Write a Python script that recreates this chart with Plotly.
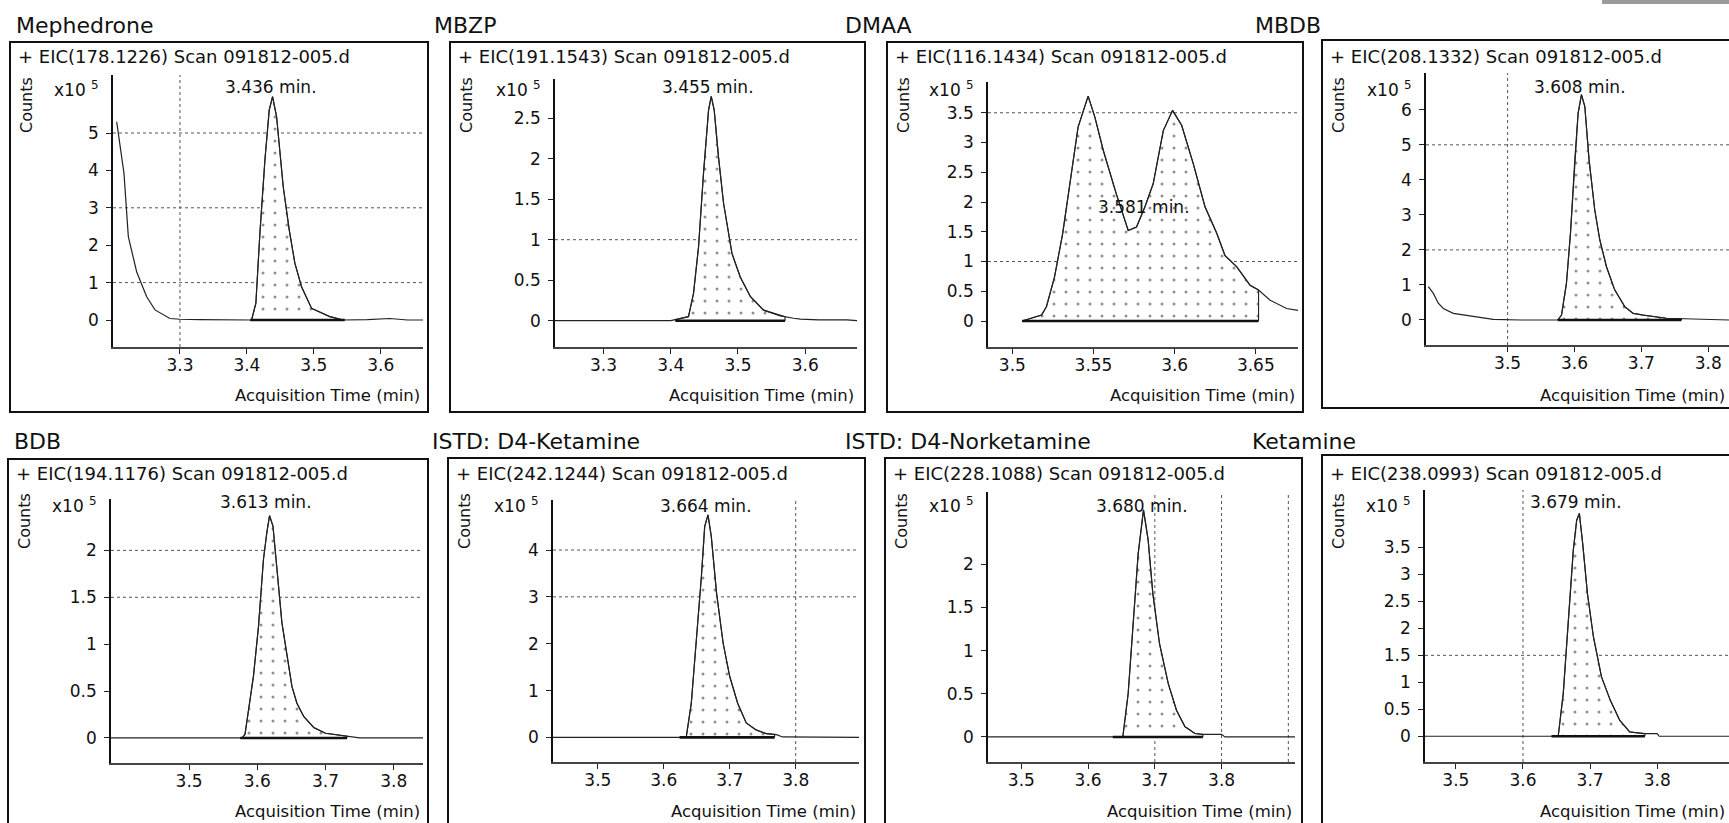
import numpy as np
import plotly.graph_objects as go

W, H = 1729, 823
FONT = "DejaVu Sans"

# ---------------- data (x10^5 counts vs acquisition time, min) ----------------
titles = ["Mephedrone", "MBZP", "DMAA", "MBDB",
          "BDB", "ISTD: D4-Ketamine", "ISTD: D4-Norketamine", "Ketamine"]
eic_labels = ["+ EIC(178.1226) Scan 091812-005.d", "+ EIC(191.1543) Scan 091812-005.d",
              "+ EIC(116.1434) Scan 091812-005.d", "+ EIC(208.1332) Scan 091812-005.d",
              "+ EIC(194.1176) Scan 091812-005.d", "+ EIC(242.1244) Scan 091812-005.d",
              "+ EIC(228.1088) Scan 091812-005.d", "+ EIC(238.0993) Scan 091812-005.d"]
peak_rt = [3.436, 3.455, 3.581, 3.608, 3.613, 3.664, 3.680, 3.679]
peak_labels = ["3.436 min.", "3.455 min.", "3.581 min.", "3.608 min.",
               "3.613 min.", "3.664 min.", "3.680 min.", "3.679 min."]

mephedrone_time = [3.2055, 3.2164, 3.2229, 3.2353, 3.2503, 3.2627, 3.285, 3.30, 3.33, 3.36, 3.38,
                   3.400, 3.407, 3.4134, 3.4194, 3.4269, 3.4333, 3.4383, 3.4443, 3.4542, 3.4632,
                   3.4716, 3.4816, 3.4966, 3.509, 3.5239, 3.5438, 3.58, 3.6134, 3.64, 3.663]
mephedrone_counts = [5.30, 3.92, 2.23, 1.29, 0.62, 0.27, 0.04, 0.02, 0.01, 0.00, 0.01,
                     0.00, 0.00, 0.45, 2.32, 4.28, 5.61, 5.97, 5.44, 3.57, 2.41,
                     1.52, 0.89, 0.31, 0.22, 0.09, 0.00, 0.01, 0.04, 0.00, 0.00]

mbzp_time = [3.228, 3.30, 3.40, 3.4265, 3.434, 3.4414, 3.4488, 3.4563, 3.4603, 3.4647, 3.4711,
             3.4786, 3.4911, 3.5034, 3.5183, 3.5381, 3.563, 3.5827, 3.593, 3.62, 3.662, 3.677]
mbzp_counts = [0.0, 0.0, 0.0, 0.05, 0.34, 0.91, 1.82, 2.60, 2.77, 2.60, 2.02,
               1.45, 0.83, 0.54, 0.30, 0.13, 0.06, 0.03, 0.02, 0.01, 0.01, 0.0]

dmaa_time = [3.506, 3.518, 3.521, 3.526, 3.531, 3.535, 3.5405, 3.5467, 3.5508, 3.556, 3.564,
             3.5714, 3.5765, 3.5817, 3.5868, 3.593, 3.5987, 3.6043, 3.6115, 3.6187, 3.626,
             3.631, 3.6383, 3.6465, 3.6517, 3.6588, 3.669, 3.676]
dmaa_counts = [0.0, 0.10, 0.24, 0.74, 1.47, 2.25, 3.26, 3.78, 3.43, 2.87, 2.14,
               1.52, 1.58, 1.92, 2.31, 3.20, 3.54, 3.29, 2.64, 1.92, 1.47,
               1.10, 0.91, 0.60, 0.52, 0.35, 0.21, 0.18]

mbdb_time = [3.3815, 3.389, 3.3964, 3.4039, 3.4188, 3.4388, 3.4587, 3.4785, 3.52, 3.575,
             3.5806, 3.588, 3.594, 3.6004, 3.6054, 3.6104, 3.6154, 3.6218, 3.6303, 3.6378,
             3.6478, 3.6601, 3.6751, 3.6875, 3.7024, 3.7373, 3.78, 3.831]
mbdb_counts = [0.95, 0.76, 0.48, 0.33, 0.19, 0.14, 0.08, 0.02, 0.0, 0.0,
               0.14, 1.05, 2.48, 4.57, 5.90, 6.43, 6.10, 4.57, 3.14, 2.29,
               1.52, 0.86, 0.38, 0.19, 0.14, 0.05, 0.02, 0.0]

bdb_time = [3.3855, 3.50, 3.578, 3.582, 3.5871, 3.5944, 3.6018, 3.609, 3.614, 3.618, 3.623,
            3.6288, 3.6361, 3.6508, 3.6581, 3.668, 3.683, 3.70, 3.73, 3.75, 3.843]
bdb_counts = [0.0, 0.0, 0.0, 0.04, 0.30, 0.66, 1.19, 1.90, 2.19, 2.37, 2.26,
              1.83, 1.23, 0.55, 0.37, 0.23, 0.11, 0.05, 0.02, 0.0, 0.0]

d4_ketamine_time = [3.432, 3.55, 3.634, 3.6417, 3.649, 3.657, 3.662, 3.667, 3.672, 3.68,
                    3.69, 3.70, 3.712, 3.725, 3.74, 3.7555, 3.771, 3.78, 3.896]
d4_ketamine_counts = [0.0, 0.0, 0.0, 0.73, 2.01, 3.43, 4.50, 4.75, 4.29, 3.08,
                      2.01, 1.30, 0.73, 0.31, 0.16, 0.08, 0.06, 0.01, 0.0]

d4_norketamine_time = [3.45, 3.55, 3.652, 3.66, 3.6673, 3.675, 3.683, 3.69, 3.697, 3.707,
                       3.72, 3.7324, 3.745, 3.76, 3.772, 3.80, 3.805, 3.91]
d4_norketamine_counts = [0.0, 0.0, 0.0, 0.50, 1.27, 2.12, 2.63, 2.28, 1.66, 1.08,
                         0.62, 0.31, 0.12, 0.04, 0.03, 0.03, 0.0, 0.0]

ketamine_time = [3.454, 3.55, 3.6525, 3.66, 3.667, 3.675, 3.68, 3.684, 3.689, 3.696,
                 3.705, 3.717, 3.73, 3.744, 3.759, 3.779, 3.80, 3.803, 3.907]
ketamine_counts = [0.0, 0.0, 0.0, 0.79, 2.03, 3.45, 4.00, 4.13, 3.57, 2.65,
                   1.84, 1.10, 0.67, 0.30, 0.08, 0.05, 0.05, 0.0, 0.0]

integ_start = [3.405, 3.407, 3.506, 3.575, 3.575, 3.624, 3.637, 3.6426]
integ_end = [3.546, 3.570, 3.6517, 3.760, 3.7316, 3.768, 3.772, 3.7817]

y_tickvals = [[0, 1, 2, 3, 4, 5], [0, 0.5, 1, 1.5, 2, 2.5], [0, 0.5, 1, 1.5, 2, 2.5, 3, 3.5],
              [0, 1, 2, 3, 4, 5, 6], [0, 0.5, 1, 1.5, 2], [0, 1, 2, 3, 4],
              [0, 0.5, 1, 1.5, 2], [0, 0.5, 1, 1.5, 2, 2.5, 3, 3.5]]
y_ticktext = [["0", "1", "2", "3", "4", "5"], ["0", "0.5", "1", "1.5", "2", "2.5"],
              ["0", "0.5", "1", "1.5", "2", "2.5", "3", "3.5"],
              ["0", "1", "2", "3", "4", "5", "6"], ["0", "0.5", "1", "1.5", "2"],
              ["0", "1", "2", "3", "4"], ["0", "0.5", "1", "1.5", "2"],
              ["0", "0.5", "1", "1.5", "2", "2.5", "3", "3.5"]]
x_tickvals = [[3.3, 3.4, 3.5, 3.6], [3.3, 3.4, 3.5, 3.6], [3.5, 3.55, 3.6, 3.65],
              [3.5, 3.6, 3.7, 3.8], [3.5, 3.6, 3.7, 3.8], [3.5, 3.6, 3.7, 3.8],
              [3.5, 3.6, 3.7, 3.8], [3.5, 3.6, 3.7, 3.8]]
x_ticktext = [["3.3", "3.4", "3.5", "3.6"], ["3.3", "3.4", "3.5", "3.6"],
              ["3.5", "3.55", "3.6", "3.65"], ["3.5", "3.6", "3.7", "3.8"],
              ["3.5", "3.6", "3.7", "3.8"], ["3.5", "3.6", "3.7", "3.8"],
              ["3.5", "3.6", "3.7", "3.8"], ["3.5", "3.6", "3.7", "3.8"]]
h_grid = [[1, 3, 5], [1, 3], [1, 3.5], [2, 5], [1.5, 2], [3, 4], [], [1.5]]
v_grid = [[3.3], [], [], [3.5], [], [3.8], [3.7, 3.8, 3.9], [3.6]]

times = [mephedrone_time, mbzp_time, dmaa_time, mbdb_time,
         bdb_time, d4_ketamine_time, d4_norketamine_time, ketamine_time]
counts = [mephedrone_counts, mbzp_counts, dmaa_counts, mbdb_counts,
          bdb_counts, d4_ketamine_counts, d4_norketamine_counts, ketamine_counts]

# ---------------- layout geometry (pixels) ----------------
plot_px = [(113, 423, 75, 347), (555, 857, 79, 347), (988, 1298, 82, 347), (1426, 1729, 73, 345),
           (111, 423, 499, 763), (553, 859, 500, 762), (988, 1295, 492, 762), (1425, 1729, 490, 762)]
x_ranges = [(3.2, 3.663), (3.228, 3.677), (3.485, 3.676), (3.378, 3.831),
            (3.3855, 3.843), (3.432, 3.896), (3.45, 3.91), (3.454, 3.907)]
y_ranges = [(-0.722, 6.551), (-0.325, 2.984), (-0.437, 4.017), (-0.714, 7.05),
            (-0.267, 2.548), (-0.525, 5.068), (-0.29, 2.837), (-0.477, 4.564)]
box_px = [(10, 42, 428, 412), (450, 42, 865, 412), (887, 42, 1303, 412), (1322, 40, 1760, 408),
          (8, 459, 428, 860), (448, 458, 865, 860), (885, 458, 1302, 860), (1322, 455, 1760, 860)]
title_px = [(14, 25), (432, 25), (843, 25), (1253, 25), (12, 441), (430, 441), (843, 441), (1250, 441)]
peak_label_y = [87, 87, None, 87, 502, 506, 506, 502]
dmaa_label_y = 1.91


def px(x):
    return x / W


def py(y):
    return 1 - y / H


fig = go.Figure()
annotations = []
shapes = []

for i in range(8):
    n = i + 1
    sfx = "" if n == 1 else str(n)
    xa, ya = "x" + sfx, "y" + sfx
    t = np.array(times[i])
    c = np.array(counts[i])

    # integrated area (dotted fill)
    a, b = integ_start[i], integ_end[i]
    m = (t > a) & (t < b)
    fx = [a, a] + list(t[m]) + [b, b]
    fy = [0, float(np.interp(a, t, c))] + list(c[m]) + [float(np.interp(b, t, c)), 0]
    fig.add_trace(go.Scatter(x=fx, y=fy, xaxis=xa, yaxis=ya, mode="lines", fill="toself",
                             fillcolor="white",
                             fillpattern=dict(shape=".", fgcolor="#222", bgcolor="white",
                                              size=12, solidity=0.05),
                             line=dict(color="#222", width=1.1), showlegend=False,
                             hoverinfo="skip"))
    # chromatogram trace
    fig.add_trace(go.Scatter(x=t, y=c, xaxis=xa, yaxis=ya, mode="lines",
                             line=dict(color="#222", width=1.2), showlegend=False))
    # integration baseline
    fig.add_trace(go.Scatter(x=[a, b], y=[0, 0], xaxis=xa, yaxis=ya, mode="lines",
                             line=dict(color="#111", width=2.6), showlegend=False))

    x0, x1, yt, yb = plot_px[i]
    axis_common = dict(showgrid=False, zeroline=False, showline=True, ticks="outside",
                       ticklen=5, tickwidth=1, tickcolor="#222", fixedrange=True,
                       tickfont=dict(family=FONT, size=17, color="#111"))
    fig.layout["xaxis" + sfx] = dict(
        domain=[px(x0), px(x1)], range=list(x_ranges[i]), anchor=ya,
        tickvals=x_tickvals[i], ticktext=x_ticktext[i], linecolor="#444", linewidth=1.5,
        ticklabelstandoff=-3, **axis_common)
    fig.layout["yaxis" + sfx] = dict(
        domain=[py(yb), py(yt)], range=list(y_ranges[i]), anchor=xa,
        tickvals=y_tickvals[i], ticktext=y_ticktext[i], linecolor="#111", linewidth=1.5,
        ticklabelstandoff=4, **axis_common)

    # gridlines
    for v in h_grid[i]:
        shapes.append(dict(type="line", xref=f"{xa} domain", x0=0, x1=1, yref=ya, y0=v, y1=v,
                           line=dict(color="#555", width=1, dash="dot"), layer="below"))
    for v in v_grid[i]:
        shapes.append(dict(type="line", yref=f"{ya} domain", y0=0, y1=1, xref=xa, x0=v, x1=v,
                           line=dict(color="#555", width=1, dash="dot"), layer="below"))

    # panel box
    bx0, by0, bx1, by1 = box_px[i]
    shapes.append(dict(type="rect", xref="paper", yref="paper", x0=px(bx0), x1=px(bx1),
                       y0=py(by1), y1=py(by0), line=dict(color="#111", width=2)))

    # texts
    tx, ty = title_px[i]
    annotations.append(dict(text=titles[i], xref="paper", yref="paper", x=px(tx), y=py(ty),
                            xanchor="left", yanchor="middle", showarrow=False,
                            font=dict(family=FONT, size=22, color="#111")))
    row_y = 57 if i < 4 else 474
    annotations.append(dict(text=eic_labels[i], xref="paper", yref="paper", x=px(bx0 + 6),
                            y=py(row_y), xanchor="left", yanchor="middle", showarrow=False,
                            font=dict(family=FONT, size=18, color="#111")))
    cnt_y = 105 if i < 4 else 521
    annotations.append(dict(text="Counts", xref="paper", yref="paper", x=px(bx0 + 16),
                            y=py(cnt_y), xanchor="center", yanchor="middle", textangle=-90,
                            showarrow=False, font=dict(family=FONT, size=16, color="#111")))
    exp_y = 89 if i < 4 else 505
    annotations.append(dict(text="x10 <sup>5</sup>", xref="paper", yref="paper", x=px(x0 - 61),
                            y=py(exp_y), xanchor="left", yanchor="middle", showarrow=False,
                            font=dict(family=FONT, size=17, color="#111")))
    if peak_label_y[i] is None:
        annotations.append(dict(text=peak_labels[i], xref=xa, yref=ya, x=peak_rt[i],
                                y=dmaa_label_y, xanchor="center", yanchor="middle",
                                showarrow=False, font=dict(family=FONT, size=17, color="#111")))
    else:
        annotations.append(dict(text=peak_labels[i], xref=xa, yref="paper", x=peak_rt[i],
                                y=py(peak_label_y[i]), xanchor="center", yanchor="middle",
                                showarrow=False, font=dict(family=FONT, size=17, color="#111")))
    xt_y = 395 if i < 4 else 811
    annotations.append(dict(text="Acquisition Time (min)", xref="paper", yref="paper",
                            x=px(min(x1 - 1, W - 2)), y=py(xt_y), xanchor="right",
                            yanchor="middle", showarrow=False,
                            font=dict(family=FONT, size=16.5, color="#111")))

# grey bar at the top right corner
shapes.append(dict(type="rect", xref="paper", yref="paper", x0=px(1602), x1=1.0,
                   y0=py(4), y1=1.0, fillcolor="#9a9a9a", line=dict(width=0)))

fig.update_layout(width=W, height=H, margin=dict(l=0, r=0, t=0, b=0),
                  paper_bgcolor="white", plot_bgcolor="white",
                  annotations=annotations, shapes=shapes, showlegend=False,
                  font=dict(family=FONT, color="#111"))

fig.write_html("out.html")
